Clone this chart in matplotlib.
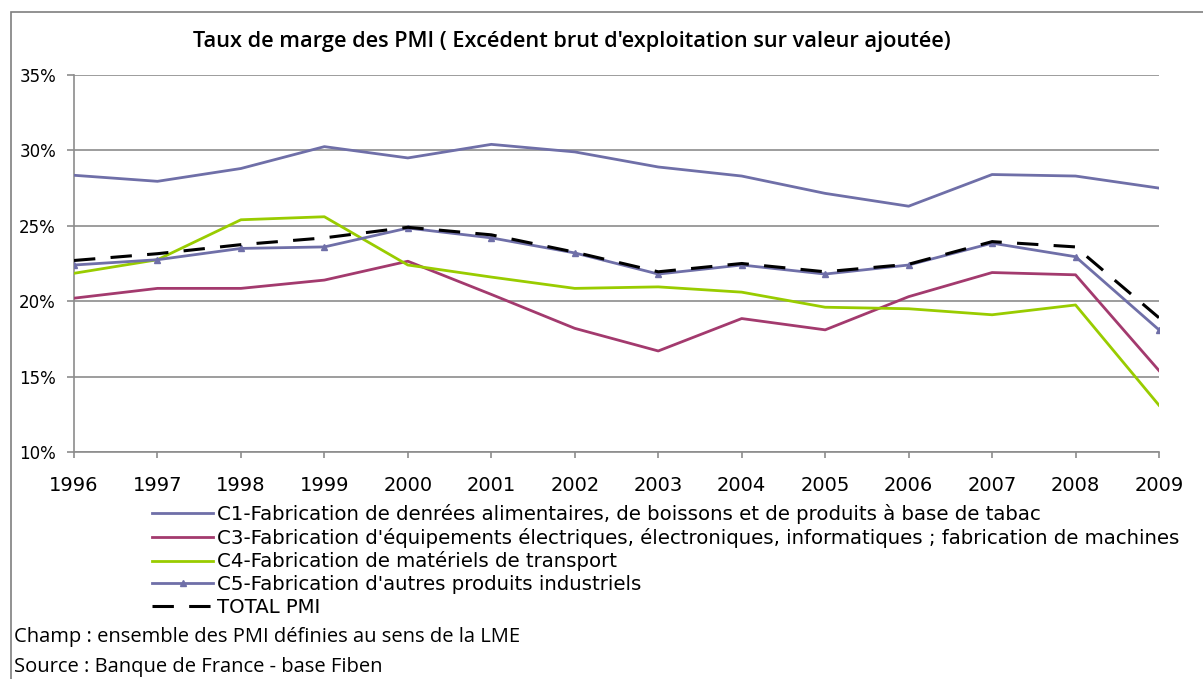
import matplotlib
matplotlib.use("Agg")
import matplotlib.pyplot as plt
from matplotlib.patches import Rectangle

years = [1996, 1997, 1998, 1999, 2000, 2001, 2002, 2003, 2004, 2005, 2006, 2007, 2008, 2009]
c1 = [28.35, 27.95, 28.8, 30.25, 29.5, 30.4, 29.9, 28.9, 28.3, 27.15, 26.3, 28.4, 28.3, 27.5]
c3 = [20.2, 20.85, 20.85, 21.4, 22.65, 20.45, 18.2, 16.7, 18.85, 18.1, 20.3, 21.9, 21.75, 15.4]
c4 = [21.85, 22.75, 25.4, 25.6, 22.4, 21.6, 20.85, 20.95, 20.6, 19.6, 19.5, 19.1, 19.75, 13.1]
c5 = [22.4, 22.75, 23.5, 23.6, 24.85, 24.2, 23.2, 21.8, 22.4, 21.8, 22.4, 23.85, 22.95, 18.1]
total = [22.7, 23.15, 23.75, 24.2, 24.9, 24.4, 23.25, 21.95, 22.5, 21.95, 22.45, 23.95, 23.6, 18.9]

labels = [
    "C1-Fabrication de denrées alimentaires, de boissons et de produits à base de tabac",
    "C3-Fabrication d'équipements électriques, électroniques, informatiques ; fabrication de machines",
    "C4-Fabrication de matériels de transport",
    "C5-Fabrication d'autres produits industriels",
    "TOTAL PMI",
]
yticks = [10, 15, 20, 25, 30, 35]
title = "Taux de marge des PMI ( Excédent brut d'exploitation sur valeur ajoutée)"
notes = ["Champ : ensemble des PMI définies au sens de la LME",
         "Source : Banque de France - base Fiben"]

fig = plt.figure(figsize=(12.03, 6.79), dpi=100)
ax = fig.add_axes([74/1203, 1-452/679, (1159-74)/1203, (452-75)/679])

col_c1 = "#6F6FA8"
col_c3 = "#A33A6E"
col_c4 = "#99CC00"
col_c5 = "#6F6FA8"

ax.plot(years, c1, color=col_c1, lw=2, label=labels[0], zorder=3)
ax.plot(years, c3, color=col_c3, lw=2, label=labels[1], zorder=3)
ax.plot(years, c4, color=col_c4, lw=2, label=labels[2], zorder=3)
ax.plot(years, c5, color=col_c5, lw=2, marker="^", ms=5, label=labels[3], zorder=3)
ax.plot(years, total, color="black", lw=2.2, dashes=(7, 5), label=labels[4], zorder=4)

ax.set_xlim(years[0], years[-1])
ax.set_ylim(10, 35)
ax.set_yticks(yticks)
ax.set_yticklabels([f"{v}%" for v in yticks])
ax.set_xticks(years)
ax.set_xticklabels([str(y) for y in years])
ax.yaxis.grid(True, color="#8C8C8C", lw=1.2)
ax.set_axisbelow(True)
for s in ["top", "right"]:
    ax.spines[s].set_visible(False)
for s in ["left", "bottom"]:
    ax.spines[s].set_color("#8C8C8C")
    ax.spines[s].set_linewidth(1.2)
ax.tick_params(axis="both", colors="#8C8C8C", labelcolor="black", length=5, width=1.2)
ax.tick_params(axis="y", pad=8, labelsize=12)
ax.tick_params(axis="x", pad=12.5, labelsize=14, length=4.5)
ax.margins(x=0)

fig.text(572/1203, 1-42/679, title, ha="center", va="center", fontsize=15.7,
         family="Open Sans", fontweight="semibold")

leg = fig.legend(loc="upper left", bbox_to_anchor=(152/1203, 1-504/679), frameon=False,
                 fontsize=14.2, handlelength=3.1, handletextpad=0.2, labelspacing=0.19,
                 borderpad=0, borderaxespad=0)

fig.text(14/1203, 1-637/679, notes[0], ha="left", va="center", fontsize=14.5, family="Open Sans")
fig.text(14/1203, 1-667/679, notes[1], ha="left", va="center", fontsize=14.5, family="Open Sans")

fig.patches.append(Rectangle((11/1203, -0.1), 1.2, 1-12/679+0.1, transform=fig.transFigure,
                             fill=False, edgecolor="#7F7F7F", lw=1.2))

fig.savefig("out.png", dpi=100)
